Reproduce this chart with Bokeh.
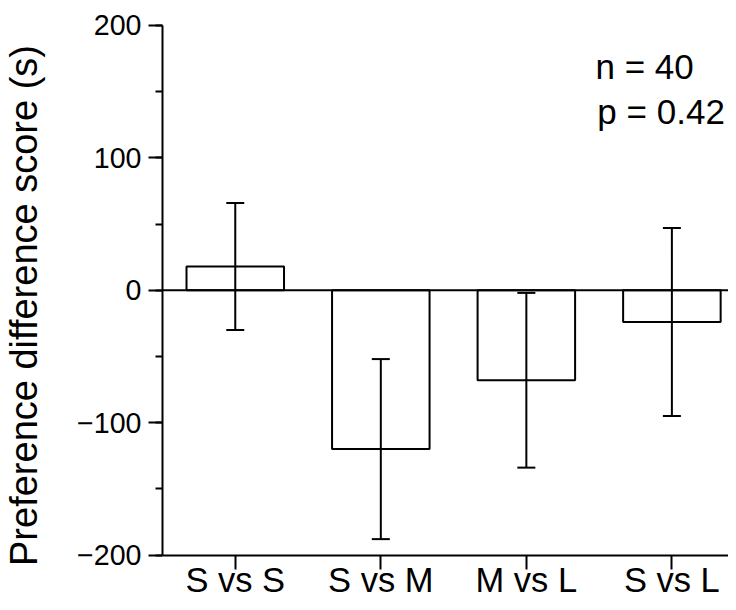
from bokeh.plotting import figure
from bokeh.models import (Range1d, FixedTicker, SingleIntervalTicker, ColumnDataSource,
                          Whisker, TeeHead, Span, Label)
from bokeh.embed import file_html
from bokeh.resources import INLINE

# ---- data ----
categories = ["S vs S", "S vs M", "M vs L", "S vs L"]
means = [18, -120, -68, -24]
errors = [48, 68, 66, 71]
annotations = ["n = 40", "p = 0.42"]
y_label = "Preference difference score (s)"
y_ticks_major = [-200, -100, 0, 100, 200]
y_min, y_max = -200, 200

FONT = "Liberation Sans"

xs = [i + 0.5 for i in range(len(categories))]
src = ColumnDataSource(dict(
    x=xs,
    top=means,
    upper=[m + e for m, e in zip(means, errors)],
    lower=[m - e for m, e in zip(means, errors)],
))

# the frame fills the canvas height; the axes are bounded to [-200, 200]
p = figure(width=728, height=602, output_backend="svg", toolbar_location=None,
           x_range=Range1d(0, 3.889), y_range=Range1d(-235.88, 212.84),
           min_border_left=159, min_border_top=8, min_border_right=0, min_border_bottom=0)
p.outline_line_color = None
p.xgrid.visible = False
p.ygrid.visible = False
p.background_fill_color = "white"
p.border_fill_color = "white"

p.vbar(x="x", top="top", bottom=0, width=0.67, source=src,
       fill_color="white", line_color="black", line_width=2)

p.add_layout(Span(location=0, dimension="width", line_color="black", line_width=2))

w = Whisker(base="x", upper="upper", lower="lower", source=src, dimension="height",
            line_color="black", line_width=2, level="overlay",
            upper_head=TeeHead(size=18, line_color="black", line_width=2),
            lower_head=TeeHead(size=18, line_color="black", line_width=2))
p.add_layout(w)

# x axis (drawn at y = -200)
xa = p.xaxis[0]
xa.fixed_location = y_min
xa.ticker = FixedTicker(ticks=xs)
xa.major_label_overrides = {x: c for x, c in zip(xs, categories)}
xa.minor_tick_line_color = None
xa.major_tick_in = 0
xa.major_tick_out = 14
xa.major_tick_line_width = 2
xa.axis_line_width = 2
xa.major_label_text_font = FONT
xa.major_label_text_font_size = "34.5px"
xa.major_label_text_color = "black"
xa.major_label_text_line_height = 1.0
xa.major_label_standoff = -8

# y axis
ya = p.yaxis[0]
ya.bounds = (y_min, y_max)
ya.ticker = SingleIntervalTicker(interval=100, num_minor_ticks=2)
ya.major_label_overrides = {t: ("\u2212" + str(abs(t)) if t < 0 else str(t)) for t in y_ticks_major}
ya.major_tick_in = 0
ya.major_tick_out = 14
ya.minor_tick_in = 0
ya.minor_tick_out = 7
ya.major_tick_line_width = 2
ya.minor_tick_line_width = 2
ya.axis_line_width = 2
ya.major_label_text_font = FONT
ya.major_label_text_font_size = "28.6px"
ya.major_label_text_color = "black"
ya.major_label_standoff = 7
ya.axis_label = y_label
ya.axis_label_text_font = FONT
ya.axis_label_text_font_size = "38px"
ya.axis_label_text_font_style = "normal"
ya.axis_label_text_color = "black"
ya.axis_label_standoff = 29

for txt, xx, yy in zip(annotations, [2.975, 2.988], [169.3, 134.9]):
    p.add_layout(Label(x=xx, y=yy, text=txt, text_font=FONT, text_font_size="35px",
                       text_align="left", text_baseline="alphabetic", text_color="black"))

open("out.html", "w").write(file_html(p, INLINE))
